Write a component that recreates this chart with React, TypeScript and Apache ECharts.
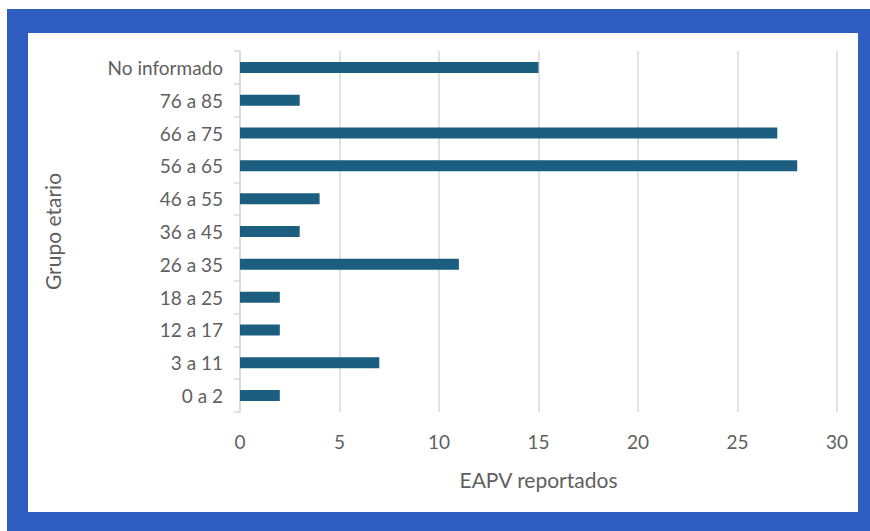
import React, { useEffect, useRef } from "react";
import * as echarts from "echarts";

// Age groups, listed bottom to top as the category axis draws them
const ageGroups = [
  "0 a 2",
  "3 a 11",
  "12 a 17",
  "18 a 25",
  "26 a 35",
  "36 a 45",
  "46 a 55",
  "56 a 65",
  "66 a 75",
  "76 a 85",
  "No informado",
];

// Reported EAPV per age group
const reportedCounts = [2, 7, 2, 2, 11, 3, 4, 28, 27, 3, 15];

const xTicks = { min: 0, max: 30, interval: 5 };

const FONT = "Lato, 'Open Sans', sans-serif";
const TEXT = "#5f5f5f";
const GRID = "#d9d9d9";

export default function App() {
  const ref = useRef<HTMLDivElement>(null);

  useEffect(() => {
    if (!ref.current) return;
    const chart = echarts.init(ref.current, undefined, { renderer: "svg" });
    chart.setOption({
      animation: false,
      backgroundColor: "#ffffff",
      textStyle: { fontFamily: FONT },
      graphic: [
        {
          type: "rect",
          z: -10,
          silent: true,
          shape: { x: 7, y: 9, width: 870, height: 530 },
          style: { fill: "#2f5dc0" },
        },
        {
          type: "rect",
          z: -9,
          silent: true,
          shape: { x: 28, y: 33, width: 830, height: 479 },
          style: { fill: "#ffffff" },
        },
      ],
      grid: { left: 240, right: 33, top: 51, bottom: 119, containLabel: false },
      xAxis: {
        type: "value",
        min: xTicks.min,
        max: xTicks.max,
        interval: xTicks.interval,
        name: "EAPV reportados",
        nameLocation: "middle",
        nameGap: 57,
        nameTextStyle: { color: TEXT, fontSize: 21, fontFamily: FONT },
        axisLine: { show: false },
        axisTick: { show: false },
        axisLabel: { color: TEXT, fontSize: 19, margin: 20, fontFamily: FONT },
        splitLine: { show: true, lineStyle: { color: GRID, width: 1.5 } },
      },
      yAxis: {
        type: "category",
        data: ageGroups,
        name: "Grupo etario",
        nameLocation: "middle",
        nameGap: 177,
        nameRotate: 90,
        nameTextStyle: { color: TEXT, fontSize: 21, fontFamily: FONT },
        axisLine: { show: true, lineStyle: { color: GRID, width: 1.5 } },
        axisTick: { show: true, length: 6, lineStyle: { color: GRID, width: 1.5 } },
        axisLabel: { color: TEXT, fontSize: 19, margin: 17, fontFamily: FONT },
        splitLine: { show: false },
      },
      series: [
        {
          type: "bar",
          data: reportedCounts,
          barWidth: 11,
          itemStyle: { color: "#1b5e80" },
        },
      ],
    });
    return () => chart.dispose();
  }, []);

  return (
    <div
      ref={ref}
      style={{ position: "fixed", left: 0, top: 0, width: 870, height: 531 }}
    />
  );
}
